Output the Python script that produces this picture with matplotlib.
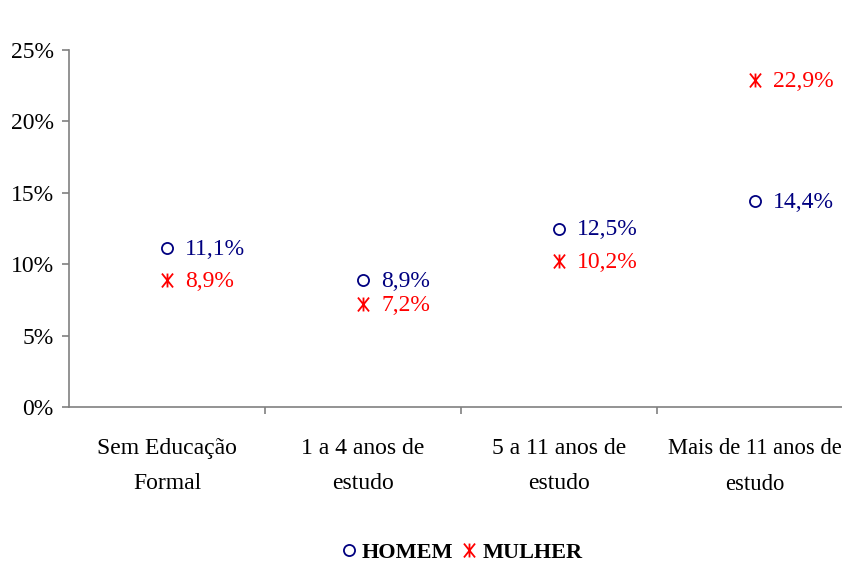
import matplotlib
matplotlib.use("Agg")
import matplotlib.pyplot as plt
from matplotlib.path import Path
from matplotlib.ticker import FixedLocator, FuncFormatter

categories = ["Sem Educação\nFormal", "1 a 4 anos de\nestudo", "5 a 11 anos de\nestudo", "Mais de 11 anos de\nestudo"]
homem = [11.1, 8.9, 12.5, 14.4]
mulher = [8.9, 7.2, 10.2, 22.9]
homem_labels = ["11,1%", "8,9%", "12,5%", "14,4%"]
mulher_labels = ["8,9%", "7,2%", "10,2%", "22,9%"]
yticks = [0, 5, 10, 15, 20, 25]

NAVY = "#000080"
RED = "#FF0000"
GRAY = "#808080"
FS = 17

plt.rcParams["font.family"] = ["Liberation Serif", "DejaVu Serif"]

star = Path([(-0.8, -1), (0.8, 1), (-0.8, 1), (0.8, -1), (0, -1), (0, 1)],
            [Path.MOVETO, Path.LINETO, Path.MOVETO, Path.LINETO, Path.MOVETO, Path.LINETO])

fig = plt.figure(figsize=(8.42, 5.67), dpi=100)
ax = fig.add_axes([69/842, 160/567, (853-69)/842, (407-50)/567])

x = list(range(len(categories)))
h_line, = ax.plot(x, homem, linestyle="none", marker="o", markersize=8,
                  markerfacecolor="none", markeredgecolor=NAVY, markeredgewidth=1.3,
                  label="HOMEM", clip_on=False)
m_line, = ax.plot(x, mulher, linestyle="none", marker=star, markersize=10,
                  markerfacecolor="none", markeredgecolor=RED, markeredgewidth=1.3,
                  label="MULHER", clip_on=False)

for xi, v, t in zip(x, homem, homem_labels):
    ax.annotate(t, (xi, v), xytext=(13, -1), textcoords="offset points",
                ha="left", va="center", color=NAVY, fontsize=FS)
for xi, v, t in zip(x, mulher, mulher_labels):
    ax.annotate(t, (xi, v), xytext=(13, -1), textcoords="offset points",
                ha="left", va="center", color=RED, fontsize=FS)

ax.set_xlim(-0.5, len(categories) - 0.5)
ax.set_ylim(0, 25)
ax.set_yticks(yticks)
ax.yaxis.set_major_formatter(FuncFormatter(lambda v, p: f"{int(v)}%"))
ax.set_xticks(x)
ax.set_xticklabels(categories, linespacing=1.9)
ax.xaxis.set_minor_locator(FixedLocator([0.5, 1.5, 2.5, 3.5]))

for s in ["top", "right"]:
    ax.spines[s].set_visible(False)
for s in ["left", "bottom"]:
    ax.spines[s].set_color(GRAY)
    ax.spines[s].set_linewidth(1.2)

ax.tick_params(axis="y", length=5, width=1.2, color=GRAY, pad=6, labelsize=FS)
ax.tick_params(axis="x", which="major", length=0, pad=22, labelsize=FS)
ax.tick_params(axis="x", which="minor", length=5, width=1.2, color=GRAY, direction="out")
last = ax.get_xticklabels()[-1]
last.set_fontsize(16.3)
last.set_linespacing(1.98)

leg = fig.legend(handles=[h_line, m_line], loc="center", bbox_to_anchor=(0.549, 0.025),
                 ncol=2, frameon=False, handlelength=0.6, handletextpad=0.3,
                 columnspacing=0.4, prop={"family": "Liberation Serif", "weight": "bold", "size": 16})

fig.savefig("out.png", dpi=100)
